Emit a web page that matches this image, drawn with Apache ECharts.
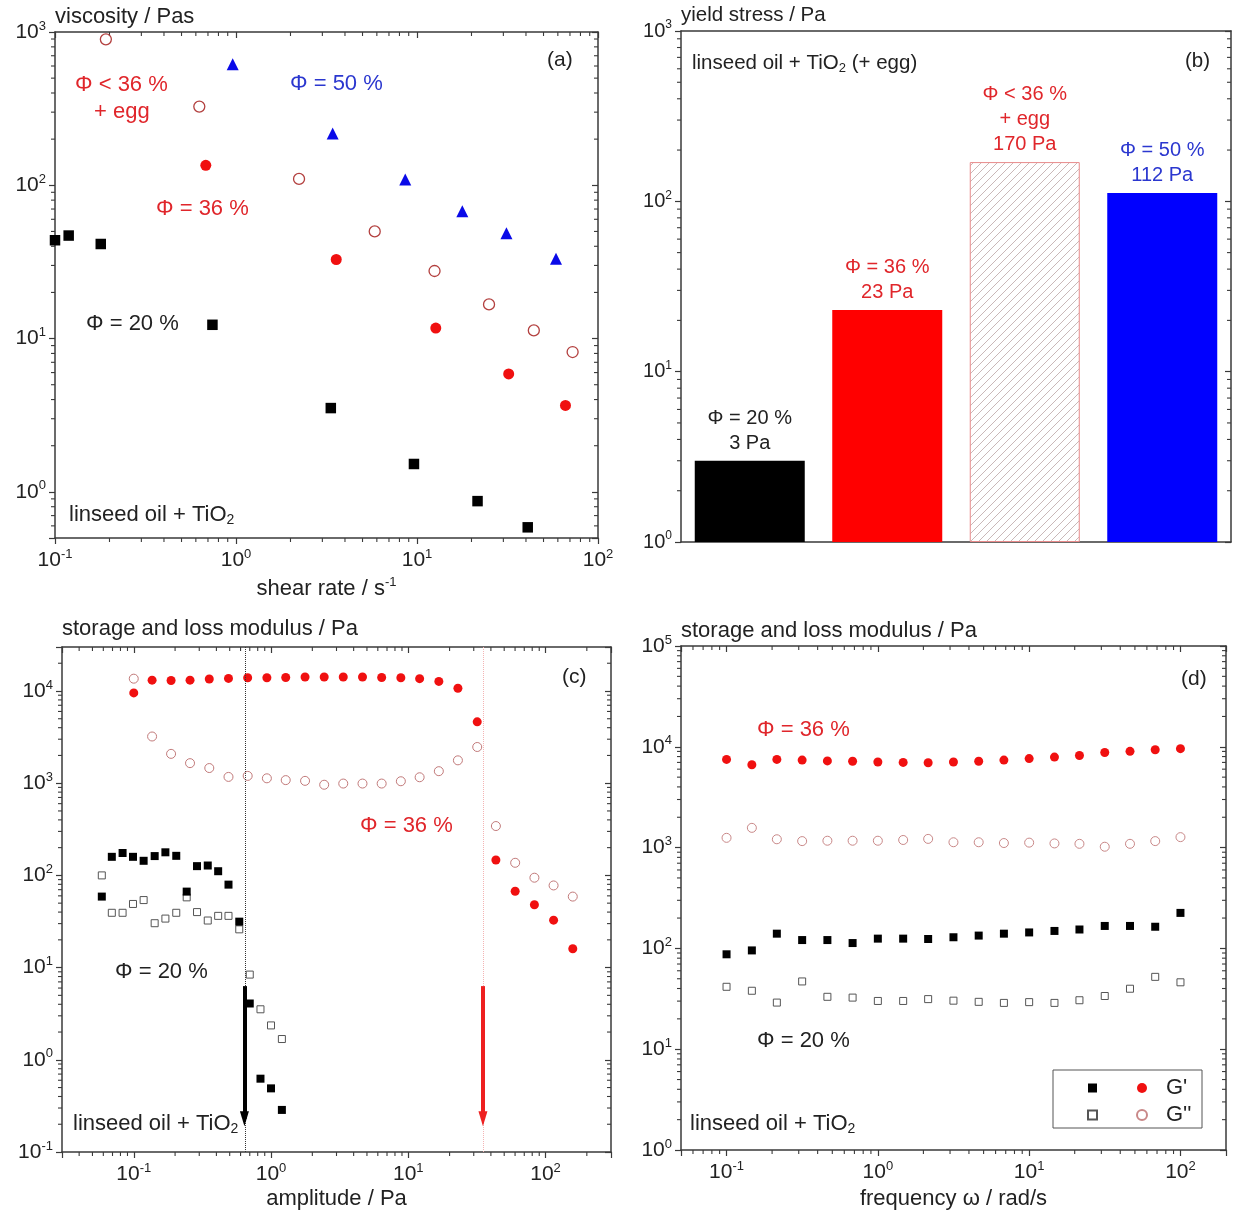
<!DOCTYPE html>
<html><head><meta charset="utf-8">
<script src="https://cdn.jsdelivr.net/npm/echarts@6/dist/echarts.min.js"></script>
<style>html,body{margin:0;padding:0;background:#fff}#c{width:1233px;height:1214px}</style>
</head><body><div id="c"></div>
<script>
// ---------- data: panel (a) viscosity vs shear rate ----------
const aBlackX = [0.1, 0.119, 0.179, 0.741, 3.34, 9.62, 21.6, 40.9];
const aBlackY = [43.8, 47, 41.4, 12.3, 3.52, 1.52, 0.87, 0.587];
const aRedX = [0.681, 3.58, 12.7, 32.1, 66.1];
const aRedY = [135, 32.8, 11.7, 5.88, 3.66];
const aEggX = [0.191, 0.627, 2.23, 5.84, 12.5, 25.0, 44.2, 72.4];
const aEggY = [896, 326, 110, 50, 27.6, 16.7, 11.3, 8.17];
const aBlueX = [0.959, 3.42, 8.61, 17.8, 31.2, 58.6];
const aBlueY = [616, 218, 109, 67.6, 48.6, 33.2];
// ---------- data: panel (b) yield stress ----------
const bCategories = ['Φ = 20 %', 'Φ = 36 %', 'Φ < 36 %\n+ egg', 'Φ = 50 %'];
const bValues = [3, 23, 170, 112];
// ---------- data: panel (c) amplitude sweep ----------
const cRedX = [0.1, 0.136, 0.187, 0.257, 0.355, 0.49, 0.676, 0.933, 1.28, 1.77, 2.44, 3.36, 4.64, 6.4, 8.83, 12.1, 16.7, 23.0, 31.8, 43.5, 60.1, 83.0, 114.5, 158];
const cRedG1 = [9530, 13100, 13000, 13100, 13500, 13700, 13900, 13900, 14000, 14200, 14200, 14200, 14200, 14000, 13900, 13600, 12700, 10700, 4630, 147, 67.3, 48.1, 32.7, 16.0];
const cRedG2 = [13600, 3210, 2080, 1650, 1460, 1170, 1200, 1130, 1080, 1060, 962, 991, 991, 991, 1050, 1160, 1350, 1770, 2470, 343, 137, 94.4, 77.8, 58.9];
const cBlackX = [0.0585, 0.0692, 0.0829, 0.0987, 0.118, 0.142, 0.170, 0.204, 0.243, 0.289, 0.346, 0.412, 0.49, 0.587, 0.70, 0.838, 1.0, 1.2];
const cBlackG1 = [58.9, 159, 175, 159, 144, 162, 178, 163, 66.7, 126, 128, 111, 79.4, 31.5, 4.08, 0.624, 0.49, 0.286];
const cBlackG2 = [100, 39.3, 39.3, 49, 54, 30.3, 34, 39.3, 57.8, 40, 32.4, 36.4, 36.4, 26, 8.4, 3.53, 2.36, 1.68];
const cDottedX = [0.65, 35];
const cArrowX = [0.64, 35];
const cArrowY = [6.3, 0.23];
// ---------- data: panel (d) frequency sweep ----------
const dFreq = [0.1, 0.147, 0.215, 0.316, 0.464, 0.681, 1, 1.47, 2.15, 3.16, 4.64, 6.81, 10, 14.7, 21.5, 31.6, 46.4, 68.1, 100];
const dRedG1 = [7500, 6630, 7500, 7380, 7250, 7180, 7060, 7000, 6940, 7060, 7180, 7380, 7640, 7910, 8190, 8790, 9020, 9340, 9590];
const dRedG2 = [1250, 1570, 1210, 1160, 1170, 1170, 1170, 1190, 1220, 1130, 1130, 1110, 1120, 1100, 1090, 1020, 1090, 1160, 1270];
const dBlackG1 = [87.4, 95.5, 140, 121, 121, 113, 125, 125, 124, 129, 134, 140, 144, 149, 154, 167, 167, 164, 225];
const dBlackG2 = [41.6, 38.0, 29.0, 47.0, 33.1, 32.5, 30.1, 30.1, 31.4, 30.3, 29.5, 28.8, 29.3, 28.8, 30.6, 33.7, 39.8, 52.2, 46.1];
// ---------- axis ranges ----------
const aXRange = [0.1, 100], aYRange = [0.5, 1000];
const bYRange = [1, 1000];
const cXRange = [0.03, 300], cYRange = [0.1, 30000];
const dXRange = [0.05, 200], dYRange = [1, 100000];

// ---------- styling ----------
const FONT = '"Liberation Sans", Arial, Helvetica, sans-serif';
const RED = '#f01010', RED_TXT = '#e0262b', BLUE = '#0a0ae8', BLUE_TXT = '#2b37cf', TXT = '#222', AX = '#3a3a3a';

const grids = [
  {left: 55, top: 32, width: 543, height: 506},
  {left: 681, top: 31, width: 550, height: 511},
  {left: 62, top: 647, width: 549, height: 505},
  {left: 681, top: 646, width: 545, height: 504}
];

function decade(v) {
  const l = Math.log10(v), e = Math.round(l);
  if (Math.abs(l - e) > 1e-6) return '';
  return '10{sup|' + e + '}';
}
function labelRich(fs) { return {sup: {fontSize: Math.round(fs * 0.62), fontFamily: FONT, color: TXT, padding: [0, 0, 12, 0]}}; }

function logX(grid, range, pos, name, nameGap, fs) {
  const main = pos === 'bottom';
  return {
    type: 'log', logBase: 10, gridIndex: grid, min: range[0], max: range[1], position: pos,
    axisLine: {show: true, onZero: false, lineStyle: {color: AX, width: 1.5}},
    axisTick: {show: true, inside: !main, length: 6, lineStyle: {color: AX, width: 1.2}},
    axisLabel: {show: main, formatter: decade, fontSize: fs, fontFamily: FONT, color: TXT, margin: 10, rich: labelRich(fs)},
    splitLine: {show: false},
    name: main ? name : '', nameLocation: 'middle', nameGap: nameGap,
    nameTextStyle: {fontSize: 22, fontFamily: FONT, color: TXT, rich: {sup: {fontSize: 13, fontFamily: FONT, color: TXT, padding: [0, 0, 12, 0]}}}
  };
}
function logY(grid, range, pos, name, nameGap, fs, nfs) {
  const main = pos === 'left';
  return {
    type: 'log', logBase: 10, gridIndex: grid, min: range[0], max: range[1], position: pos,
    axisLine: {show: true, onZero: false, lineStyle: {color: AX, width: 1.5}},
    axisTick: {show: true, inside: !main, length: 6, lineStyle: {color: AX, width: 1.2}},
    axisLabel: {show: main, formatter: decade, fontSize: fs, fontFamily: FONT, color: TXT, margin: 9, rich: labelRich(fs)},
    splitLine: {show: false},
    name: main ? name : '', nameLocation: 'end', nameGap: nameGap,
    nameTextStyle: {fontSize: nfs, fontFamily: FONT, color: TXT, align: 'left', verticalAlign: 'middle'}
  };
}
function catX(grid, pos) {
  return {
    type: 'category', gridIndex: grid, position: pos, data: bCategories,
    axisLine: {show: true, lineStyle: {color: AX, width: 1.5}},
    axisTick: {show: false}, axisLabel: {show: false}, splitLine: {show: false}
  };
}

// minor log ticks (2..9 x 10^k) drawn through the axis scales
function minorVals(range) {
  const out = [];
  const k0 = Math.floor(Math.log10(range[0])), k1 = Math.ceil(Math.log10(range[1]));
  for (let k = k0; k <= k1; k++) for (let m = 2; m <= 9; m++) {
    const v = m * Math.pow(10, k);
    if (v > range[0] * 1.0001 && v < range[1] * 0.9999) out.push(v);
  }
  return out;
}
function tl(x1, y1, x2, y2) { return {type: 'line', shape: {x1, y1, x2, y2}, style: {stroke: AX, lineWidth: 1.1}}; }
function xMinor(idx, range, yAt) {
  return {
    type: 'custom', xAxisIndex: idx, yAxisIndex: idx, silent: true, animation: false, clip: false,
    data: minorVals(range).map(v => [v, yAt]),
    renderItem(params, api) {
      const cs = params.coordSys;
      const x = api.coord([api.value(0), api.value(1)])[0];
      const yb = cs.y + cs.height, yt = cs.y;
      return {type: 'group', children: [tl(x, yb, x, yb + 4), tl(x, yt, x, yt + 4)]};
    }
  };
}
function yMinor(idx, range, xAt) {
  return {
    type: 'custom', xAxisIndex: idx, yAxisIndex: idx, silent: true, animation: false, clip: false,
    data: minorVals(range).map(v => [xAt, v]),
    renderItem(params, api) {
      const cs = params.coordSys;
      const y = api.coord([api.value(0), api.value(1)])[1];
      const xl = cs.x, xr = cs.x + cs.width;
      return {type: 'group', children: [tl(xl - 4, y, xl, y), tl(xr - 4, y, xr, y)]};
    }
  };
}

function sc(name, idx, xs, ys, symbol, size, color) {
  return {type: 'scatter', name, xAxisIndex: idx, yAxisIndex: idx, symbol, symbolSize: size,
    data: xs.map((x, i) => [x, ys[i]]), itemStyle: {color: color, opacity: 1},
    emphasis: {disabled: true}, animation: false, z: 4};
}
function scOpen(name, idx, xs, ys, symbol, size, stroke, bw) {
  return {type: 'scatter', name, xAxisIndex: idx, yAxisIndex: idx, symbol, symbolSize: size,
    data: xs.map((x, i) => [x, ys[i]]),
    itemStyle: {color: 'rgba(255,255,255,0)', borderColor: stroke, borderWidth: bw, opacity: 1},
    emphasis: {disabled: true}, animation: false, z: 3};
}

// hatch pattern for the "+ egg" bar
const hatch = document.createElement('canvas');
hatch.width = 8; hatch.height = 8;
(function () {
  const g = hatch.getContext('2d');
  g.fillStyle = '#fff'; g.fillRect(0, 0, 8, 8);
  g.strokeStyle = '#bca6a6'; g.lineWidth = 0.8;
  g.beginPath();
  g.moveTo(0, 8); g.lineTo(8, 0);
  g.moveTo(-2, 2); g.lineTo(2, -2);
  g.moveTo(6, 10); g.lineTo(10, 6);
  g.stroke();
})();
const bItemStyles = [
  {color: '#000'},
  {color: '#ff0000'},
  {color: {image: hatch, repeat: 'repeat'}, borderColor: '#e88a8a', borderWidth: 1},
  {color: '#0000ff'}
];
const bLabelColors = [TXT, RED_TXT, RED_TXT, BLUE_TXT];

// names (d) legend
const nD20g1 = "G' (Φ = 20 %)", nD20g2 = "G'' (Φ = 20 %)", nD36g1 = "G' (Φ = 36 %)", nD36g2 = "G'' (Φ = 36 %)";

function txt(x, y, text, color, fs) {
  return {type: 'text', x, y, z: 20, silent: true,
    style: {text, fill: color, fontSize: fs, fontFamily: FONT, verticalAlign: 'middle', align: 'left',
      rich: {sub: {fontSize: Math.round(fs * 0.62), fontFamily: FONT, fill: color, padding: [10, 0, 0, 0]}}}};
}

const cRedSeries = sc("G' amplitude Φ = 36 %", 2, cRedX, cRedG1, 'circle', 9, RED);
cRedSeries.markLine = {
  silent: true, animation: false, symbol: ['none', 'none'], label: {show: false},
  emphasis: {disabled: true},
  data: [
    {xAxis: cDottedX[0], lineStyle: {type: 'dotted', color: '#333', width: 1}},
    {xAxis: cDottedX[1], lineStyle: {type: 'dotted', color: '#f4b4b4', width: 1}},
    [{coord: [cArrowX[0], cArrowY[0]], symbol: 'none', lineStyle: {type: 'solid', color: '#000', width: 4}},
     {coord: [cArrowX[0], cArrowY[1]], symbol: 'triangle', symbolSize: [9, 15]}],
    [{coord: [cArrowX[1], cArrowY[0]], symbol: 'none', lineStyle: {type: 'solid', color: '#ee2020', width: 4}},
     {coord: [cArrowX[1], cArrowY[1]], symbol: 'triangle', symbolSize: [9, 15]}]
  ]
};

const option = {
  animation: false,
  backgroundColor: '#fff',
  grid: grids,
  xAxis: [
    logX(0, aXRange, 'bottom', 'shear rate / s{sup|-1}', 38, 21),
    catX(1, 'bottom'),
    logX(2, cXRange, 'bottom', 'amplitude / Pa', 36, 21),
    logX(3, dXRange, 'bottom', 'frequency ω / rad/s', 38, 21),
    logX(0, aXRange, 'top', '', 0, 21),
    catX(1, 'top'),
    logX(2, cXRange, 'top', '', 0, 21),
    logX(3, dXRange, 'top', '', 0, 21)
  ],
  yAxis: [
    logY(0, aYRange, 'left', 'viscosity / Pas', 15, 21, 22),
    logY(1, bYRange, 'left', 'yield stress / Pa', 16, 20, 20.5),
    logY(2, cYRange, 'left', 'storage and loss modulus / Pa', 18, 21, 22),
    logY(3, dYRange, 'left', 'storage and loss modulus / Pa', 15, 21, 22),
    logY(0, aYRange, 'right', '', 0, 21, 22),
    logY(1, bYRange, 'right', '', 0, 20, 20),
    logY(2, cYRange, 'right', '', 0, 21, 22),
    logY(3, dYRange, 'right', '', 0, 21, 22)
  ],
  legend: [
    {data: [nD20g1, nD20g2], orient: 'vertical', left: 1087, top: 1076, padding: 0,
     itemWidth: 9, itemHeight: 9, itemGap: 3, selectedMode: false, formatter: () => ' ',
     textStyle: {fontSize: 22, lineHeight: 24, fontFamily: FONT, color: TXT}},
    {data: [nD36g1, nD36g2], orient: 'vertical', left: 1136, top: 1076, padding: 0,
     itemWidth: 10, itemHeight: 10, itemGap: 3, selectedMode: false,
     formatter: n => n.split(' ')[0],
     textStyle: {fontSize: 22, lineHeight: 24, fontFamily: FONT, color: TXT, padding: [0, 0, 0, 14]}}
  ],
  series: [
    // minor ticks
    xMinor(0, aXRange, aYRange[0]), yMinor(0, aYRange, aXRange[0]),
    yMinor(1, bYRange, 0),
    xMinor(2, cXRange, cYRange[0]), yMinor(2, cYRange, cXRange[0]),
    xMinor(3, dXRange, dYRange[0]), yMinor(3, dYRange, dXRange[0]),
    // (a)
    sc('Φ = 20 %', 0, aBlackX, aBlackY, 'rect', 10.5, '#000'),
    scOpen('Φ < 36 % + egg', 0, aEggX, aEggY, 'circle', 11, '#b3403f', 1.3),
    sc('Φ = 36 %', 0, aRedX, aRedY, 'circle', 11, RED),
    sc('Φ = 50 %', 0, aBlueX, aBlueY, 'triangle', 12, BLUE),
    // (b)
    {type: 'bar', xAxisIndex: 1, yAxisIndex: 1, barWidth: '80%', animation: false, emphasis: {disabled: true},
     data: bValues.map((v, i) => ({value: v, itemStyle: bItemStyles[i], label: {color: bLabelColors[i]}})),
     label: {show: true, position: 'top', distance: 5, fontSize: 20, fontFamily: FONT, lineHeight: 25, align: 'center',
       formatter: p => bCategories[p.dataIndex] + '\n' + p.value + ' Pa'}},
    // (c)
    scOpen("G'' amplitude Φ = 20 %", 2, cBlackX, cBlackG2, 'rect', 7, '#555', 1),
    sc("G' amplitude Φ = 20 %", 2, cBlackX, cBlackG1, 'rect', 8, '#000'),
    scOpen("G'' amplitude Φ = 36 %", 2, cRedX, cRedG2, 'circle', 9, '#c27a7a', 1),
    cRedSeries,
    // (d)
    scOpen(nD20g2, 3, dFreq, dBlackG2, 'rect', 7, '#555', 1),
    sc(nD20g1, 3, dFreq, dBlackG1, 'rect', 8, '#000'),
    scOpen(nD36g2, 3, dFreq, dRedG2, 'circle', 9, '#c98888', 1),
    sc(nD36g1, 3, dFreq, dRedG1, 'circle', 9, RED)
  ],
  graphic: {elements: [
    // (a)
    txt(547, 60, '(a)', TXT, 21),
    txt(75, 85, 'Φ < 36 %', RED_TXT, 22),
    txt(94, 112, '+ egg', RED_TXT, 22),
    txt(290, 84, 'Φ = 50 %', BLUE_TXT, 22),
    txt(156, 209, 'Φ = 36 %', RED_TXT, 22),
    txt(86, 324, 'Φ = 20 %', TXT, 22),
    txt(69, 515, 'linseed oil + TiO{sub|2}', TXT, 22),
    // (b)
    txt(692, 63, 'linseed oil + TiO{sub|2} (+ egg)', TXT, 20.5),
    txt(1185, 61, '(b)', TXT, 20.5),
    // (c)
    txt(562, 677, '(c)', TXT, 21),
    txt(360, 826, 'Φ = 36 %', RED_TXT, 22),
    txt(115, 972, 'Φ = 20 %', TXT, 22),
    txt(73, 1124, 'linseed oil + TiO{sub|2}', TXT, 22),
    // (d)
    txt(1181, 679, '(d)', TXT, 21),
    txt(757, 730, 'Φ = 36 %', RED_TXT, 22),
    txt(757, 1041, 'Φ = 20 %', TXT, 22),
    txt(690, 1124, 'linseed oil + TiO{sub|2}', TXT, 22),
    {type: 'rect', z: 15, silent: true, shape: {x: 1053, y: 1070, width: 149, height: 58},
     style: {fill: 'none', stroke: '#555', lineWidth: 1}}
  ]}
};

const chart = echarts.init(document.getElementById('c'), null, {renderer: 'canvas'});
chart.setOption(option);
</script></body></html>
